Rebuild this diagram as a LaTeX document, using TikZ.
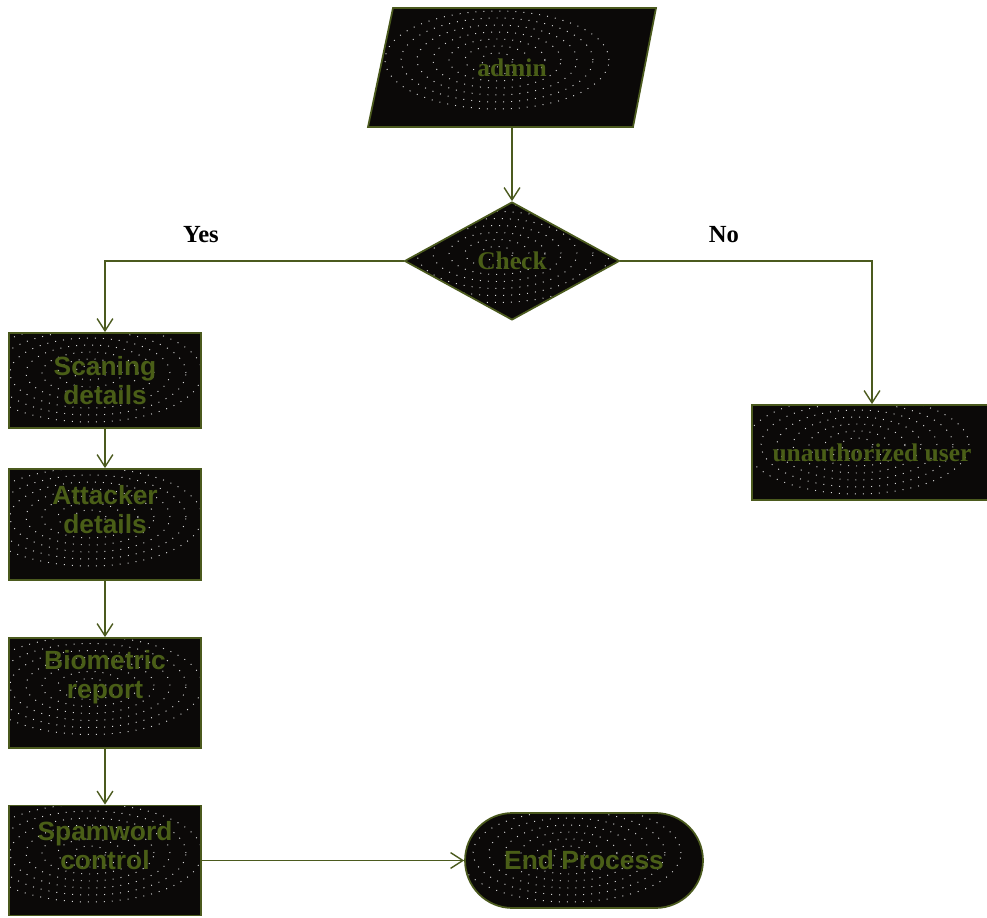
\documentclass[tikz,border=0pt]{standalone}
\usepackage{fontspec}
\setmainfont{Liberation Serif}
\setsansfont{Liberation Sans}
\usetikzlibrary{shapes.geometric,shapes.misc,arrows.meta,calc}
\definecolor{olive}{HTML}{4B5A1E}
\definecolor{txtgreen}{HTML}{4A5E17}
\definecolor{darkfill}{HTML}{0B0908}
\begin{document}
\begin{tikzpicture}[x=0.02cm,y=-0.02cm,
  swirl/.style={path picture={
    \foreach \i in {1,...,7}
      \draw[white!85!black, loosely dotted, line width=0.55pt]
        ($(path picture bounding box.center)+(-0.3cm,0.15cm)$) ellipse ({0.32cm*\i} and {0.14cm*\i});
  }},
  shapebox/.style={draw=olive, line width=1pt, fill=darkfill, swirl},
  rectbox/.style={shapebox, rectangle, inner sep=0pt, minimum width=3.84cm},
  sanstext/.style={text=txtgreen, font=\sffamily\bfseries\fontsize{15}{16.5}\selectfont, align=center, inner sep=0pt},
  serifbox/.style={text=txtgreen, font=\bfseries\fontsize{14.5}{16}\selectfont},
  conn/.style={draw=olive, line width=0.8pt, -{Straight Barb[length=7pt,width=9pt]}},
  lbl/.style={font=\bfseries\fontsize{14}{16}\selectfont, text=black}
]
\useasboundingbox (0,0) rectangle (987,918);

% admin parallelogram
\draw[shapebox] (393,8) -- (656,8) -- (633,127) -- (368,127) -- cycle;
\node[serifbox] (admin) at (512,68) {admin};
\coordinate (adminb) at (512,127);

% check diamond
\node[shapebox, diamond, minimum width=4.3cm, minimum height=2.36cm, inner sep=0pt,
  serifbox] (check) at (512,261) {Check};

% left column boxes
\node[rectbox, minimum height=1.9cm] (scan) at (105,380.5) {};
\node[rectbox, minimum height=2.22cm] (attack) at (105,524.5) {};
\node[rectbox, minimum height=2.2cm] (bio) at (105,693) {};
\node[rectbox, minimum height=2.2cm] (spam) at (105,860.5) {};
\node[sanstext] (scant) at (105,381) {Scaning\\details};
\node[sanstext] (attackt) at (105,509.5) {Attacker\\details};
\node[sanstext] (biot) at (105,677) {Biometric\\report};
\node[sanstext] (spamt) at (105,845.5) {Spamword\\control};

% end process
\node[shapebox, rounded rectangle, minimum width=4.76cm, minimum height=1.9cm, inner sep=0pt,
  sanstext] (endp) at (584,860.5) {End Process};

% unauthorized user
\node[shapebox, rectangle, minimum width=4.8cm, minimum height=1.9cm, inner sep=0pt,
  serifbox] (unauth) at (872,452.5) {};
\node[serifbox] (unautht) at (872,452.5) {unauthorized user};

% connectors
\draw[conn] (adminb) -- (check.north);
\draw[conn] (check.west) -| (scan.north);
\draw[conn] (check.east) -| (unauth.north);
\draw[conn] (scan.south) -- (attack.north);
\draw[conn] (attack.south) -- (bio.north);
\draw[conn] (bio.south) -- (spam.north);
\draw[conn] (spam.east) -- (endp.west);

% labels
\node[lbl] (yes) at (201,235) {Yes};
\node[lbl] (no) at (724,235) {No};
\end{tikzpicture}
\end{document}
